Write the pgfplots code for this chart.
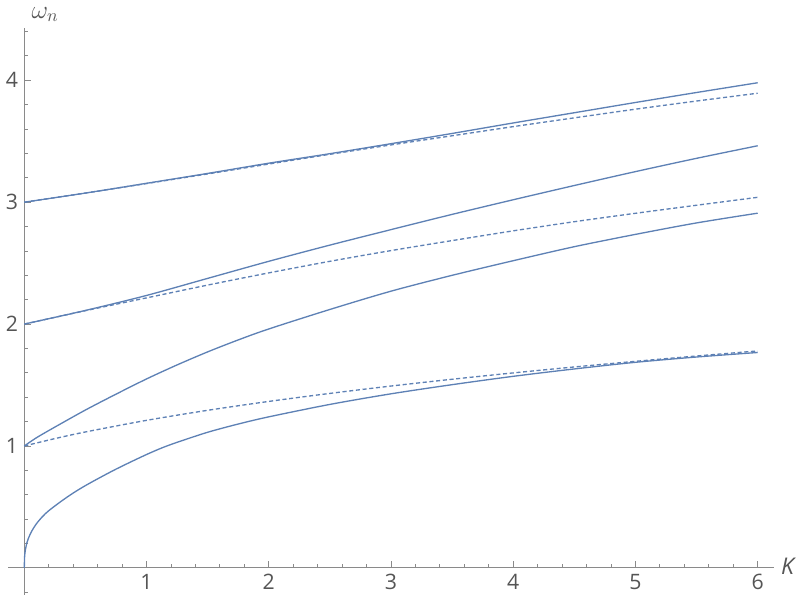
\documentclass[border=0pt]{standalone}
\usepackage{pgfplots}
\pgfplotsset{compat=1.18}
\usepackage{fontspec}
\setmainfont{Open Sans}
\definecolor{mblue}{HTML}{5E81B5}
\definecolor{axgray}{HTML}{8A8A8A}
\definecolor{txgray}{HTML}{555555}

\begin{document}
\begin{tikzpicture}
\begin{axis}[
    scale only axis,
    width=15.2cm, height=11.25cm,
    axis lines=middle,
    axis line style={-, axgray, line width=0.55pt},
    xmin=-0.13, xmax=6.135, ymin=-0.22, ymax=4.43,
    xtick={0,1,...,6}, xticklabels={,1,2,3,4,5,6},
    ytick={0,1,...,4}, yticklabels={,1,2,3,4},
    minor xtick={0.2,0.4,...,6.0},
    minor ytick={-0.2,0.2,0.4,...,4.4},
    tick align=inside,
    major tick length=0.13cm, minor tick length=0.075cm,
    tick style={axgray, line width=0.5pt},
    ticklabel style={font=\fontsize{12}{14}\selectfont, text=txgray},
    /pgf/number format/assume math mode=true,
    clip=false,
    every axis plot/.append style={mblue, line width=0.75pt, line join=round},
]
  % lowest branch, starts at 0
  \addplot[smooth] coordinates {
    (0,0) (0.002,0.085) (0.006,0.128) (0.015,0.18) (0.03,0.233) (0.06,0.30)
    (0.1,0.363) (0.15,0.422) (0.2,0.469) (0.3,0.545) (0.4,0.614) (0.5,0.675)
    (0.625,0.744) (0.75,0.81) (0.875,0.871) (1.0,0.93) (1.125,0.984)
    (1.25,1.03) (1.5,1.1125) (1.75,1.18) (2.0,1.239) (2.5,1.341) (3.0,1.428)
    (3.5,1.503) (4.0,1.5715) (4.5,1.632) (5.0,1.6865) (5.5,1.73) (6.0,1.767)
  };
  % branch from 1
  \addplot[smooth] coordinates {
    (0,1.0) (0.1,1.068) (0.25,1.155) (0.5,1.295) (0.75,1.425) (1.0,1.55)
    (1.25,1.665) (1.5,1.772) (1.75,1.87) (2.0,1.96) (2.5,2.12) (3.0,2.27)
    (3.5,2.40) (4.0,2.52) (4.5,2.635) (5.0,2.736) (5.5,2.83) (6.0,2.91)
  };
  % branch from 2
  \addplot[smooth] coordinates {
    (0,2.0) (0.5,2.112) (1.0,2.235) (1.5,2.375) (2.0,2.515) (2.5,2.648)
    (3.0,2.775) (3.5,2.90) (4.0,3.02) (4.5,3.137) (5.0,3.251) (5.5,3.36)
    (6.0,3.463)
  };
  % branch from 3
  \addplot[smooth] coordinates {
    (0,3.0) (0.5,3.075) (1.0,3.155) (1.5,3.236) (2.0,3.32) (2.5,3.398)
    (3.0,3.48) (3.5,3.564) (4.0,3.65) (4.5,3.734) (5.0,3.818) (5.5,3.90)
    (6.0,3.98)
  };
  % dashed approximations
  \addplot[smooth, dash pattern=on 2.3pt off 1.5pt] coordinates {
    (0,1.0) (0.25,1.0605) (0.5,1.115) (1.0,1.2103) (1.5,1.2926) (2.0,1.3655)
    (2.5,1.4313) (3.0,1.4917) (3.5,1.5475) (4.0,1.5995) (4.5,1.6483)
    (5.0,1.6944) (5.5,1.7382) (6.0,1.7798)
  };
  \addplot[smooth, dash pattern=on 2.3pt off 1.5pt] coordinates {
    (0,2.0) (0.5,2.11) (1.0,2.215) (1.5,2.32) (2.0,2.42) (2.5,2.515)
    (3.0,2.603) (3.5,2.685) (4.0,2.765) (4.5,2.84) (5.0,2.909) (5.5,2.975)
    (6.0,3.04)
  };
  \addplot[smooth, dash pattern=on 2.3pt off 1.5pt] coordinates {
    (0,3.0) (0.5,3.075) (1.0,3.153) (1.5,3.232) (2.0,3.313) (2.5,3.393)
    (3.0,3.47) (3.5,3.545) (4.0,3.62) (4.5,3.692) (5.0,3.763) (5.5,3.83)
    (6.0,3.894)
  };
  \node[text=txgray, font=\fontsize{14}{16}\selectfont, inner ysep=4pt] at (axis cs:0.17,4.54) {$\omega_n$};
  \node[text=txgray, font=\fontsize{13}{15}\selectfont\itshape] at (axis cs:6.245,0.01) {K};
\end{axis}
\end{tikzpicture}
\end{document}
